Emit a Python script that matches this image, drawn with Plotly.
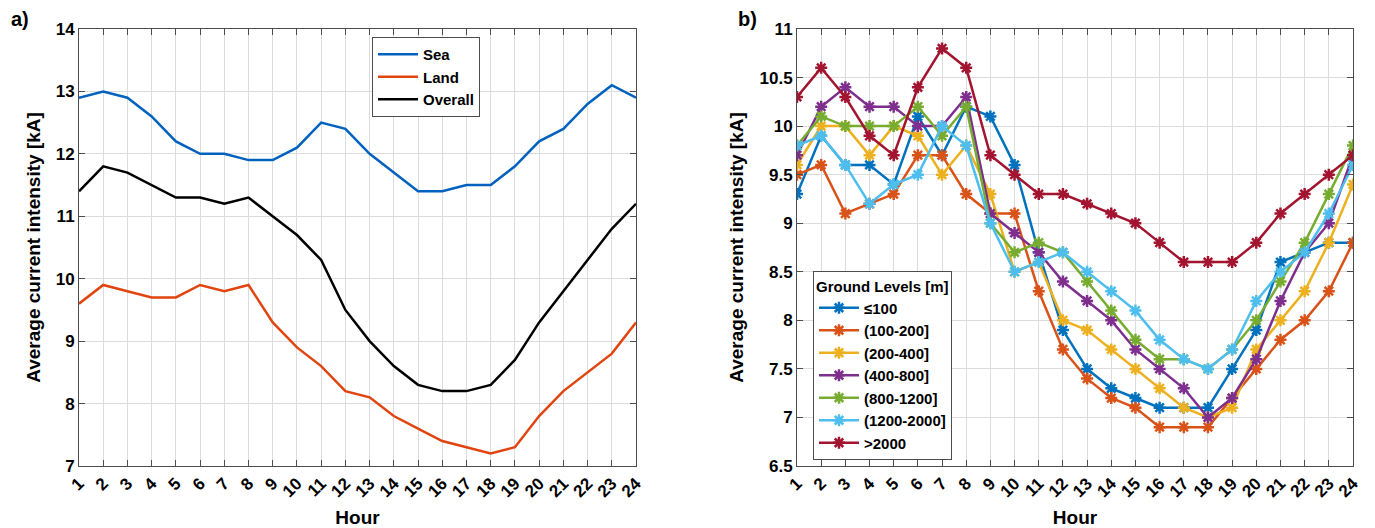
import plotly.graph_objects as go

hours = list(range(1, 25))
hour_labels = [str(h) for h in hours]

sea = [12.9, 13.0, 12.9, 12.6, 12.2, 12.0, 12.0, 11.9, 11.9, 12.1, 12.5, 12.4,
       12.0, 11.7, 11.4, 11.4, 11.5, 11.5, 11.8, 12.2, 12.4, 12.8, 13.1, 12.9]
land = [9.6, 9.9, 9.8, 9.7, 9.7, 9.9, 9.8, 9.9, 9.3, 8.9, 8.6, 8.2,
        8.1, 7.8, 7.6, 7.4, 7.3, 7.2, 7.3, 7.8, 8.2, 8.5, 8.8, 9.3]
overall = [11.4, 11.8, 11.7, 11.5, 11.3, 11.3, 11.2, 11.3, 11.0, 10.7, 10.3, 9.5,
           9.0, 8.6, 8.3, 8.2, 8.2, 8.3, 8.7, 9.3, 9.8, 10.3, 10.8, 11.2]

lvl_names = ["≤100", "(100-200]", "(200-400]", "(400-800]", "(800-1200]", "(1200-2000]", ">2000"]
lvl_le100 = [9.3, 9.9, 9.6, 9.6, 9.4, 10.1, 9.7, 10.2, 10.1, 9.6, 8.7, 7.9,
             7.5, 7.3, 7.2, 7.1, 7.1, 7.1, 7.5, 7.9, 8.6, 8.7, 8.8, 8.8]
lvl_100_200 = [9.5, 9.6, 9.1, 9.2, 9.3, 9.7, 9.7, 9.3, 9.1, 9.1, 8.3, 7.7,
               7.4, 7.2, 7.1, 6.9, 6.9, 6.9, 7.2, 7.5, 7.8, 8.0, 8.3, 8.8]
lvl_200_400 = [9.6, 10.0, 10.0, 9.7, 10.0, 9.9, 9.5, 9.8, 9.3, 8.5, 8.6, 8.0,
               7.9, 7.7, 7.5, 7.3, 7.1, 7.0, 7.1, 7.7, 8.0, 8.3, 8.8, 9.4]
lvl_400_800 = [9.7, 10.2, 10.4, 10.2, 10.2, 10.0, 10.0, 10.3, 9.1, 8.9, 8.7, 8.4,
               8.2, 8.0, 7.7, 7.5, 7.3, 7.0, 7.2, 7.6, 8.2, 8.7, 9.0, 9.7]
lvl_800_1200 = [9.8, 10.1, 10.0, 10.0, 10.0, 10.2, 9.9, 10.2, 9.0, 8.7, 8.8, 8.7,
                8.4, 8.1, 7.8, 7.6, 7.6, 7.5, 7.7, 8.0, 8.4, 8.8, 9.3, 9.8]
lvl_1200_2000 = [9.8, 9.9, 9.6, 9.2, 9.4, 9.5, 10.0, 9.8, 9.0, 8.5, 8.6, 8.7,
                 8.5, 8.3, 8.1, 7.8, 7.6, 7.5, 7.7, 8.2, 8.5, 8.7, 9.1, 9.6]
lvl_gt2000 = [10.3, 10.6, 10.3, 9.9, 9.7, 10.4, 10.8, 10.6, 9.7, 9.5, 9.3, 9.3,
              9.2, 9.1, 9.0, 8.8, 8.6, 8.6, 8.6, 8.8, 9.1, 9.3, 9.5, 9.7]
lvl_series = [lvl_le100, lvl_100_200, lvl_200_400, lvl_400_800, lvl_800_1200, lvl_1200_2000, lvl_gt2000]
lvl_colors = ["#0072BD", "#D95319", "#EDB120", "#7E2F8E", "#77AC30", "#4DBEEE", "#A2142F"]

FONT = "Liberation Sans, Arial, sans-serif"

fig = go.Figure()

for name, vals, col in [("<b>Sea</b>", sea, "#0061BE"), ("<b>Land</b>", land, "#E0450F"),
                        ("<b>Overall</b>", overall, "#000000")]:
    fig.add_trace(go.Scatter(x=hours, y=vals, name=name, mode="lines",
                             line=dict(color=col, width=2.5),
                             xaxis="x", yaxis="y", legend="legend"))

for name, vals, col in zip(lvl_names, lvl_series, lvl_colors):
    fig.add_trace(go.Scatter(x=hours, y=vals, name="<b>" + name + "</b>", mode="lines+markers",
                             line=dict(color=col, width=2.5),
                             marker=dict(symbol="asterisk", size=10, color=col,
                                         line=dict(color=col, width=2.5)),
                             xaxis="x2", yaxis="y2", legend="legend2"))

axis_common = dict(
    showgrid=True, gridcolor="#DCDCDC", gridwidth=1,
    showline=True, linecolor="#4D4D4D", linewidth=1, mirror="ticks",
    ticks="inside", ticklen=6, tickcolor="#4D4D4D",
    zeroline=False, automargin=False,
    tickfont=dict(family=FONT, size=17, color="#000000", weight="bold"),
)

xcommon = dict(axis_common, tickmode="array", tickvals=hours, ticktext=hour_labels,
               tickangle=-45, range=[1, 24],
               title=dict(text="<b>Hour</b>", font=dict(family=FONT, size=19, color="#000000"),
                          standoff=14))

ytitle = dict(text="<b>Average current intensity [kA]</b>",
              font=dict(family=FONT, size=19, color="#000000"), standoff=10)

fig.update_layout(
    width=1375, height=528,
    margin=dict(l=0, r=0, t=0, b=0),
    paper_bgcolor="white", plot_bgcolor="white",
    font=dict(family=FONT, color="#000000"),
    xaxis=dict(xcommon, domain=[79 / 1375, 636 / 1375], anchor="y"),
    yaxis=dict(axis_common, domain=[1 - 466 / 528, 1 - 29 / 528], anchor="x",
               range=[7, 14], dtick=1, tick0=7, title=ytitle),
    xaxis2=dict(xcommon, domain=[797 / 1375, 1353 / 1375], anchor="y2"),
    yaxis2=dict(axis_common, domain=[1 - 466 / 528, 1 - 29 / 528], anchor="x2",
                range=[6.5, 11], dtick=0.5, tick0=6.5, title=ytitle),
    legend=dict(x=372 / 1375, y=1 - 37 / 528, xanchor="left", yanchor="top",
                bgcolor="white", bordercolor="#4D4D4D", borderwidth=1,
                font=dict(family=FONT, size=15, color="#000000"),
                tracegroupgap=0, itemwidth=40),
    legend2=dict(x=813 / 1375, y=1 - 271 / 528, xanchor="left", yanchor="top",
                 bgcolor="white", bordercolor="#4D4D4D", borderwidth=1,
                 font=dict(family=FONT, size=15, color="#000000"),
                 title=dict(text="<b>Ground Levels [m]</b>",
                            font=dict(family=FONT, size=15, color="#000000")),
                 tracegroupgap=0, itemwidth=40),
    showlegend=True,
    shapes=[
        dict(type="line", xref="paper", yref="paper",
             x0=813 / 1375, x1=949 / 1375, y0=1 - 297 / 528, y1=1 - 297 / 528,
             line=dict(color="#4D4D4D", width=1)),
    ],
    annotations=[
        dict(text="<b>a)</b>", x=9 / 1375, y=1 - 19 / 528, xref="paper", yref="paper",
             xanchor="left", yanchor="middle", showarrow=False,
             font=dict(family=FONT, size=20, color="#000000")),
        dict(text="<b>b)</b>", x=736 / 1375, y=1 - 19 / 528, xref="paper", yref="paper",
             xanchor="left", yanchor="middle", showarrow=False,
             font=dict(family=FONT, size=20, color="#000000")),
    ],
)

fig.write_html("out.html")
